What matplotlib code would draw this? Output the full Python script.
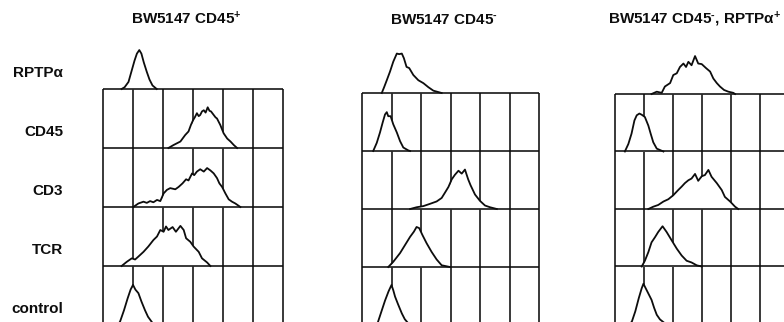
import matplotlib
matplotlib.use("Agg")
import matplotlib.pyplot as plt
from matplotlib.transforms import blended_transform_factory

plt.rcParams['font.family'] = ['Liberation Sans', 'DejaVu Sans']
plt.rcParams['mathtext.fontset'] = 'custom'
plt.rcParams['mathtext.rm'] = 'Liberation Sans:bold'
plt.rcParams['mathtext.bf'] = 'Liberation Sans:bold'
plt.rcParams['mathtext.it'] = 'Liberation Sans:bold'

titles = ["BW5147 CD45$^{+}$", "BW5147 CD45$^{\u2010}$", "BW5147 CD45$^{\u2010}$, RPTP\u03b1$^{+}$"]
row_labels = ["RPTP\u03b1", "CD45", "CD3", "TCR", "control"]

# histograms: x in grid columns (0-6), height in row units
# --- BW5147 CD45+ ---
p1_rptpa_x = [0.62, 0.72, 0.85, 0.95, 1.05, 1.13, 1.21, 1.28, 1.36, 1.46, 1.55, 1.65, 1.79]
p1_rptpa_y = [0, 0.03, 0.12, 0.30, 0.48, 0.60, 0.66, 0.60, 0.45, 0.29, 0.16, 0.06, 0]
p1_cd45_x = [2.18, 2.35, 2.58, 2.74, 2.85, 2.93, 3.0, 3.06, 3.13, 3.19, 3.24, 3.30, 3.36, 3.42,
             3.49, 3.55, 3.60, 3.69, 3.75, 3.80, 3.91, 4.02, 4.14, 4.25, 4.36, 4.47]
p1_cd45_y = [0, 0.05, 0.11, 0.22, 0.28, 0.39, 0.47, 0.52, 0.59, 0.54, 0.56, 0.62, 0.64, 0.60,
             0.69, 0.63, 0.62, 0.56, 0.52, 0.50, 0.39, 0.25, 0.16, 0.11, 0.05, 0]
p1_cd3_x = [1.01, 1.18, 1.35, 1.46, 1.57, 1.68, 1.80, 1.91, 2.02, 2.13, 2.24, 2.41, 2.52, 2.65,
            2.77, 2.85, 2.97, 3.04, 3.13, 3.24, 3.36, 3.47, 3.58, 3.69, 3.80, 3.88, 3.97, 4.08,
            4.19, 4.30, 4.41, 4.58]
p1_cd3_y = [0, 0.06, 0.09, 0.07, 0.10, 0.08, 0.12, 0.10, 0.23, 0.29, 0.32, 0.30, 0.34, 0.40,
            0.47, 0.45, 0.57, 0.54, 0.60, 0.64, 0.60, 0.66, 0.62, 0.57, 0.49, 0.40, 0.34, 0.23,
            0.13, 0.09, 0.06, 0]
p1_tcr_x = [0.62, 0.79, 0.96, 1.07, 1.18, 1.35, 1.51, 1.68, 1.80, 1.91, 2.02, 2.10, 2.18, 2.32,
            2.43, 2.58, 2.69, 2.77, 2.91, 3.02, 3.19, 3.30, 3.47, 3.58]
p1_tcr_y = [0, 0.07, 0.13, 0.11, 0.16, 0.24, 0.33, 0.44, 0.50, 0.61, 0.58, 0.67, 0.61, 0.66,
            0.58, 0.68, 0.61, 0.47, 0.41, 0.33, 0.24, 0.13, 0.06, 0]
p1_ctrl_x = [0.50, 0.57, 0.70, 0.82, 0.92, 1.0, 1.08, 1.18, 1.28, 1.40, 1.50, 1.60, 1.70]
p1_ctrl_y = [0, 0.06, 0.25, 0.45, 0.60, 0.68, 0.60, 0.54, 0.40, 0.25, 0.14, 0.07, 0]

# --- BW5147 CD45- ---
p2_rptpa_x = [0.67, 0.75, 0.84, 0.95, 1.06, 1.18, 1.26, 1.35, 1.42, 1.51, 1.60, 1.74, 1.91,
              2.08, 2.25, 2.42, 2.70]
p2_rptpa_y = [0, 0.10, 0.22, 0.37, 0.54, 0.68, 0.67, 0.68, 0.60, 0.45, 0.43, 0.31, 0.22,
              0.17, 0.10, 0.04, 0]
p2_cd45_x = [0.38, 0.50, 0.61, 0.70, 0.78, 0.84, 0.89, 0.97, 1.06, 1.18, 1.29, 1.40, 1.57, 1.63]
p2_cd45_y = [0, 0.14, 0.32, 0.49, 0.63, 0.67, 0.60, 0.60, 0.46, 0.32, 0.17, 0.06, 0.01, 0]
p2_cd3_x = [1.63, 1.85, 2.08, 2.31, 2.53, 2.70, 2.81, 2.93, 3.04, 3.15, 3.27, 3.38, 3.49, 3.60,
            3.68, 3.83, 4.0, 4.17, 4.34, 4.57]
p2_cd3_y = [0, 0.03, 0.05, 0.09, 0.13, 0.19, 0.28, 0.38, 0.51, 0.59, 0.66, 0.61, 0.68, 0.51,
            0.41, 0.25, 0.14, 0.06, 0.03, 0]
p2_tcr_x = [0.89, 1.06, 1.29, 1.46, 1.63, 1.76, 1.85, 1.94, 2.05, 2.19, 2.36, 2.53, 2.70, 2.98]
p2_tcr_y = [0, 0.09, 0.24, 0.38, 0.52, 0.61, 0.69, 0.67, 0.55, 0.41, 0.26, 0.13, 0.03, 0]
p2_ctrl_x = [0.50, 0.54, 0.65, 0.78, 0.90, 1.0, 1.06, 1.12, 1.22, 1.35, 1.45, 1.55, 1.65]
p2_ctrl_y = [0, 0.05, 0.22, 0.42, 0.58, 0.69, 0.60, 0.49, 0.36, 0.20, 0.10, 0.04, 0]

# --- BW5147 CD45-, RPTPa+ ---
p3_rptpa_x = [1.26, 1.44, 1.61, 1.72, 1.90, 2.01, 2.13, 2.24, 2.36, 2.45, 2.53, 2.64, 2.76,
              2.87, 2.99, 3.14, 3.28, 3.39, 3.51, 3.62, 3.76, 3.91, 4.08, 4.14]
p3_rptpa_y = [0, 0.04, 0.02, 0.13, 0.19, 0.33, 0.36, 0.47, 0.53, 0.47, 0.56, 0.50, 0.66,
              0.53, 0.52, 0.45, 0.39, 0.27, 0.19, 0.13, 0.07, 0.04, 0.02, 0]
p3_cd45_x = [0.34, 0.46, 0.57, 0.67, 0.75, 0.84, 0.92, 1.03, 1.15, 1.23, 1.32, 1.44, 1.67]
p3_cd45_y = [0, 0.13, 0.31, 0.54, 0.63, 0.66, 0.64, 0.60, 0.45, 0.31, 0.16, 0.05, 0]
p3_cd3_x = [1.15, 1.32, 1.49, 1.67, 1.84, 2.01, 2.18, 2.30, 2.41, 2.53, 2.64, 2.76, 2.87, 2.99,
            3.10, 3.22, 3.33, 3.51, 3.68, 3.79, 3.97, 4.14, 4.25]
p3_cd3_y = [0, 0.04, 0.07, 0.13, 0.17, 0.24, 0.33, 0.39, 0.45, 0.50, 0.53, 0.61, 0.49, 0.57,
            0.59, 0.68, 0.56, 0.45, 0.33, 0.21, 0.13, 0.04, 0]
p3_tcr_x = [0.92, 1.03, 1.15, 1.26, 1.38, 1.49, 1.64, 1.78, 1.96, 2.13, 2.30, 2.47, 2.64, 2.82, 2.99]
p3_tcr_y = [0, 0.10, 0.25, 0.42, 0.51, 0.60, 0.70, 0.60, 0.45, 0.31, 0.19, 0.10, 0.07, 0.02, 0]
p3_ctrl_x = [0.50, 0.58, 0.70, 0.82, 0.92, 0.98, 1.05, 1.15, 1.26, 1.35, 1.44, 1.55, 1.70, 1.78]
p3_ctrl_y = [0, 0.04, 0.22, 0.45, 0.62, 0.70, 0.63, 0.53, 0.42, 0.28, 0.16, 0.08, 0.02, 0]

panels = [
    [(p1_rptpa_x, p1_rptpa_y), (p1_cd45_x, p1_cd45_y), (p1_cd3_x, p1_cd3_y),
     (p1_tcr_x, p1_tcr_y), (p1_ctrl_x, p1_ctrl_y)],
    [(p2_rptpa_x, p2_rptpa_y), (p2_cd45_x, p2_cd45_y), (p2_cd3_x, p2_cd3_y),
     (p2_tcr_x, p2_tcr_y), (p2_ctrl_x, p2_ctrl_y)],
    [(p3_rptpa_x, p3_rptpa_y), (p3_cd45_x, p3_cd45_y), (p3_cd3_x, p3_cd3_y),
     (p3_tcr_x, p3_tcr_y), (p3_ctrl_x, p3_ctrl_y)],
]

W, H = 784, 322
# panel placement in pixels: left edge, grid top, column width, row height, title centre
layout = [(103, 89, 30.0, 59.0, 186), (362, 93, 29.5, 58.0, 444), (615, 94, 29.0, 57.5, 695)]

fig = plt.figure(figsize=(W / 100, H / 100), dpi=100)
fig.patch.set_facecolor('white')

ink = '#0d0d0d'
axes = []
for (left, top, colw, rowh, tx), hists, title in zip(layout, panels, titles):
    bottom = top + 4 * rowh
    ax = fig.add_axes([left / W, 1 - bottom / H, 6 * colw / W, 5 * rowh / H])
    ax.set_xlim(0, 6)
    ax.set_ylim(0, 5)
    ax.axis('off')

    # grid: 6 columns x 4 rows
    ax.vlines(range(7), 0, 4, colors=ink, lw=1.15, zorder=1, clip_on=False)
    ax.hlines(range(5), 0, 6, colors=ink, lw=1.15, zorder=5, clip_on=False)

    for i, (xs, ys) in enumerate(hists):
        base = 4 - i
        top_y = [base + v for v in ys]
        ax.fill_between(xs, base, top_y, color='white', lw=0, zorder=3, clip_on=False)
        ax.plot(xs, top_y, color=ink, lw=1.3, zorder=4, clip_on=False)

    fig.text(tx / W, 1 - 24 / H, title, ha='center', va='baseline',
             fontsize=11, fontweight='bold', color=ink)
    axes.append(ax)

trans = blended_transform_factory(fig.transFigure, axes[0].transData)
for i, lab in enumerate(row_labels):
    axes[0].text(63 / W, 4 - i + 0.195, lab, transform=trans, ha='right', va='baseline',
                 fontsize=11, fontweight='bold', color=ink)

fig.savefig('out.png', dpi=100, facecolor='white')
